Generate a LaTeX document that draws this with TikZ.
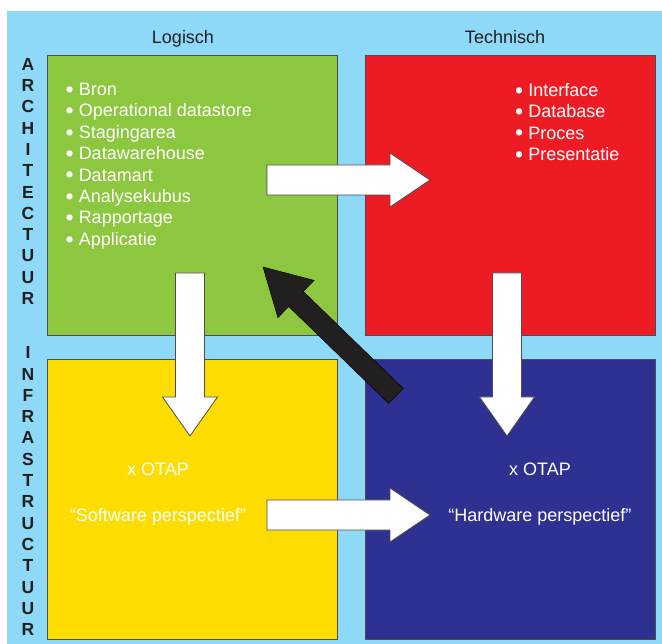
\documentclass[tikz,border=0pt]{standalone}
\usepackage{fontspec}
\setmainfont{Liberation Sans}
\usetikzlibrary{calc}
\definecolor{sky-blue}{HTML}{8FD9F8}
\definecolor{apple-green}{HTML}{8DC63F}
\definecolor{signal-red}{HTML}{ED1C24}
\definecolor{sun-yellow}{HTML}{FFDD00}
\definecolor{navy-blue}{HTML}{2E3192}
\definecolor{ink}{HTML}{231F20}

\newcommand{\bul}{\raisebox{-1.8pt}{\fontsize{23}{0}\selectfont•}}
\newcommand{\blockarrow}[6]{%
  \coordinate (ahead) at ($(#3)!#6!(#2)$);
  \draw[#1] ($(#2)!#4!90:(#3)$) -- ($(ahead)!#4!90:(#3)$) -- ($(ahead)!#5!90:(#3)$) -- (#3)
    -- ($(ahead)!#5!-90:(#3)$) -- ($(ahead)!#4!-90:(#3)$) -- ($(#2)!#4!-90:(#3)$) -- cycle;
}

\begin{document}
\begin{tikzpicture}[x=1pt, y=-1pt,
    quad/.style={draw=ink!80, line width=0.8pt, anchor=north west, minimum width=290pt, minimum height=280pt, inner sep=0pt},
    list/.style={white, anchor=north west, align=left, inner sep=0pt, font=\fontsize{18}{21.4}\selectfont},
    headtext/.style={ink, anchor=base, inner sep=0pt, font=\fontsize{18}{21}\selectfont},
    boxtext/.style={white, anchor=base, inner sep=0pt, font=\fontsize{18}{21}\selectfont},
    side/.style={ink, anchor=north, align=center, inner sep=0pt, font=\bfseries\fontsize{17.5}{21.3}\selectfont},
    white arrow/.style={draw=ink!80, fill=white, line width=0.8pt},
    black arrow/.style={fill=ink}]
  \useasboundingbox (0,0) rectangle (662,644);
  \fill[sky-blue] (7,11) rectangle (662,644);

  \node[quad, fill=apple-green] (arch-log) at (47,55) {};
  \node[quad, fill=signal-red] (arch-tech) at (365,55) {};
  \node[quad, fill=sun-yellow] (infra-log) at (47,359) {};
  \node[quad, fill=navy-blue] (infra-tech) at (365,359) {};

  \node[headtext] (h-log) at (183,44) {Logisch};
  \node[headtext] (h-tech) at (505,44) {Technisch};
  \node[side] (s-arch) at (28,58) {A\\R\\C\\H\\I\\T\\E\\C\\T\\U\\U\\R};
  \node[side] (s-infra) at (28,346.5) {I\\N\\F\\R\\A\\S\\T\\R\\U\\C\\T\\U\\U\\R};

  \node[list] (log-list) at (65.5,83) {\bul\ Bron\\\bul\ Operational datastore\\\bul\ Stagingarea\\\bul\ Datawarehouse\\\bul\ Datamart\\\bul\ Analysekubus\\\bul\ Rapportage\\\bul\ Applicatie};
  \node[list] (tech-list) at (515,83) {\bul\ Interface\\\bul\ Database\\\bul\ Proces\\\bul\ Presentatie};

  \node[boxtext] (otap-log) at (158,475.5) {x OTAP};
  \node[boxtext] (persp-log) at (158,521.5) {“Software perspectief”};
  \node[boxtext] (otap-tech) at (540,475.5) {x OTAP};
  \node[boxtext] (persp-tech) at (540,521.5) {“Hardware perspectief”};

  \coordinate (top-tail) at (267,180);
  \coordinate (top-tip) at (430,180);
  \coordinate (bot-tail) at (267,515);
  \coordinate (bot-tip) at (430,515);
  \coordinate (left-tail) at (190,273);
  \coordinate (left-tip) at (190,436);
  \coordinate (right-tail) at (507,273);
  \coordinate (right-tip) at (507,436);
  \coordinate (back-tail) at (396,396);
  \coordinate (back-tip) at (263,267);

  \blockarrow{white arrow}{top-tail}{top-tip}{15pt}{27pt}{40pt}
  \blockarrow{white arrow}{bot-tail}{bot-tip}{15pt}{27pt}{40pt}
  \blockarrow{white arrow}{left-tail}{left-tip}{14.5pt}{27.5pt}{39pt}
  \blockarrow{white arrow}{right-tail}{right-tip}{14.5pt}{27.5pt}{39pt}
  \blockarrow{black arrow}{back-tail}{back-tip}{10.5pt}{26pt}{46pt}
\end{tikzpicture}
\end{document}
